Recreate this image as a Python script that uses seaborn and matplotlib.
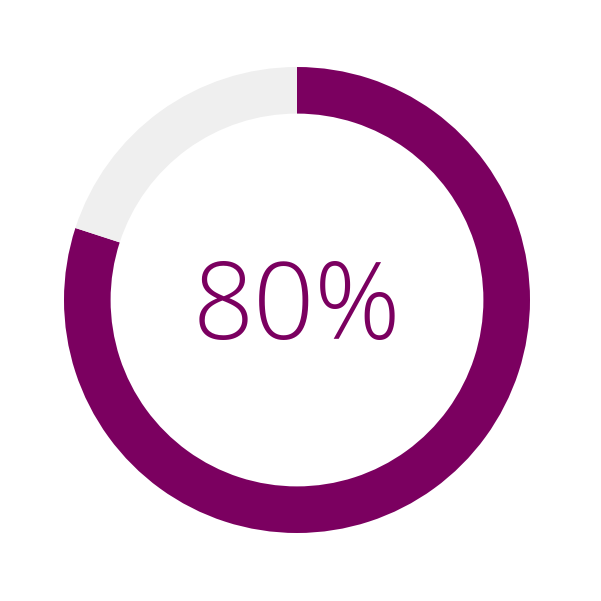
import matplotlib
matplotlib.use("Agg")
import matplotlib.pyplot as plt
import seaborn as sns

labels = ["Complete", "Remaining"]
values = [80, 20]
colors = ["#7B0060", "#EFEFEF"]
center_label = "80%"

sns.set_theme(style="white")
plt.rcParams['font.family'] = ['Open Sans', 'Lato', 'DejaVu Sans']

fig = plt.figure(figsize=(6.01, 6.01), dpi=100)
ax = fig.add_axes([0, 0, 1, 1])
ax.pie(values, colors=colors, startangle=90, counterclock=False,
       wedgeprops=dict(width=0.2, linewidth=0), radius=1.0)
ax.set_xlim(-297/233, (601-297)/233)
ax.set_ylim(-301/233, 300/233)
ax.set_aspect('equal')
ax.axis('off')
ax.text(0.0, -0.048, center_label, ha='center', va='center', fontsize=77,
        fontweight='light', color="#7B0060")
fig.savefig("out.png", dpi=100, facecolor="white")
